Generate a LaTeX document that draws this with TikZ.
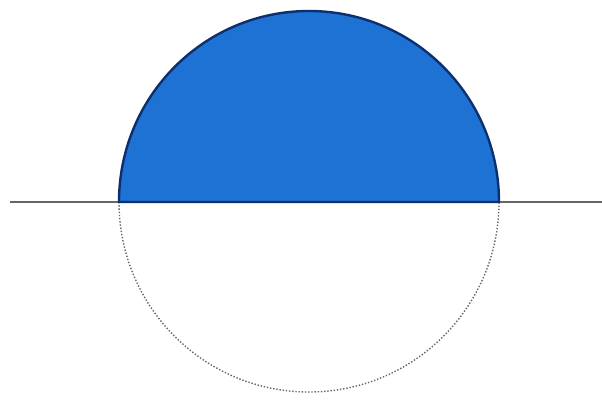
\documentclass[tikz,border=0pt]{standalone}
\definecolor{capblue}{HTML}{1E72D4}
\definecolor{capedge}{HTML}{0D2F6E}
\definecolor{linegray}{HTML}{666666}
\tikzset{
  capfill/.style={fill=capblue, draw=capedge, line width=2.4pt},
  lowerarc/.style={draw=linegray, line width=1.4pt, dash pattern=on 1.4pt off 1.8pt},
  horizon/.style={draw=linegray, line width=2.6pt}
}
\begin{document}
\begin{tikzpicture}[x=1pt,y=-1pt]
\useasboundingbox (0,0) rectangle (602,403);
\coordinate (c) at (309,202);
\coordinate (hl) at (10,202);
\coordinate (hr) at (602,202);
\draw[lowerarc] (119,202) arc[start angle=180, end angle=0, x radius=190, y radius=190];
\draw[horizon] (hl) -- (hr);
\filldraw[capfill] (119,202) arc[start angle=180, end angle=0, x radius=190, y radius=-191] -- cycle;
\end{tikzpicture}
\end{document}
